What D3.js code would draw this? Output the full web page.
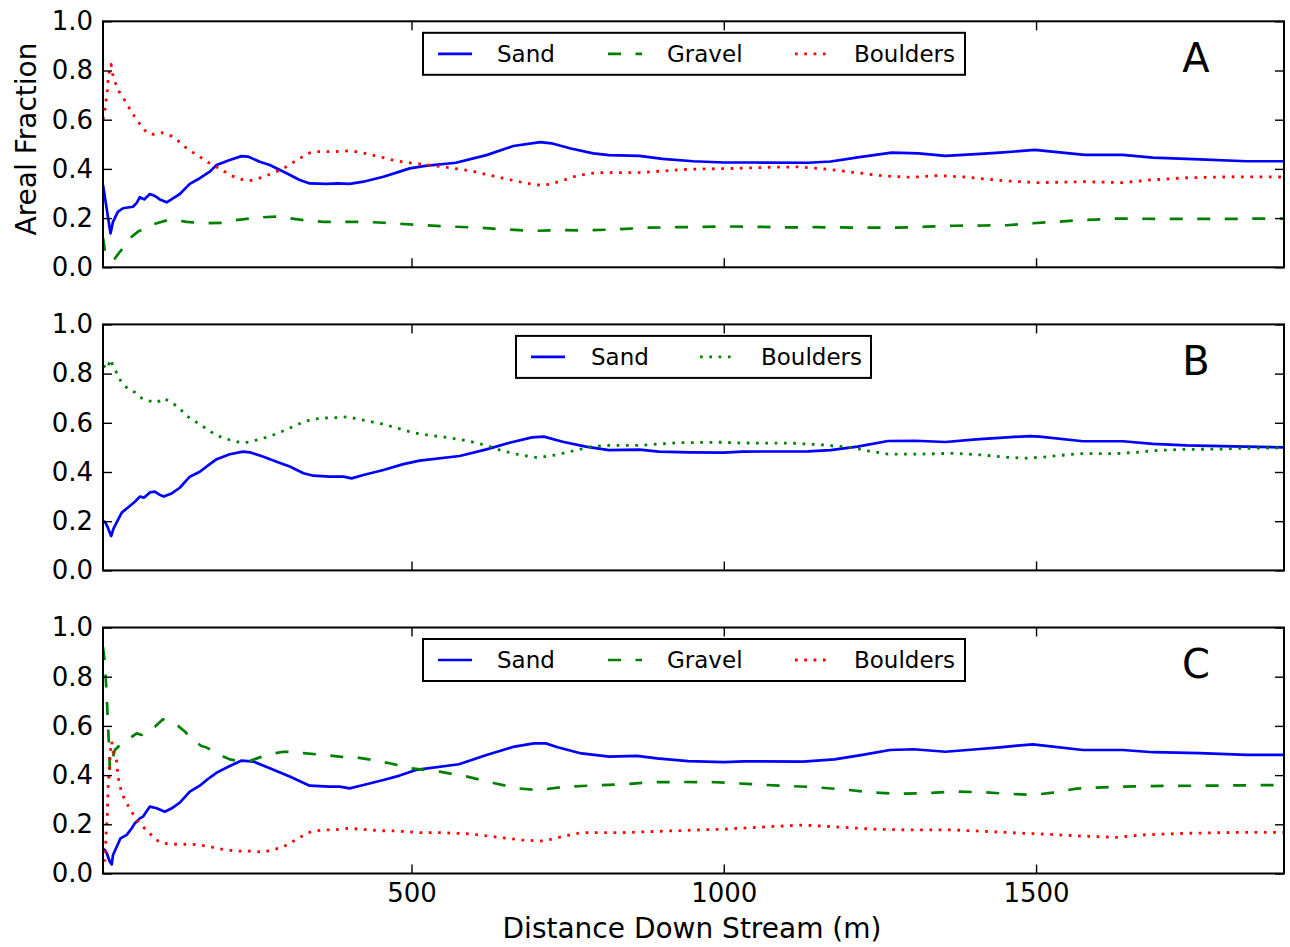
<!DOCTYPE html>
<html>
<head>
<meta charset="utf-8">
<script src="https://cdn.jsdelivr.net/npm/d3@7"></script>
<style>
html,body{margin:0;padding:0;background:#fff;}
svg{display:block;font-family:"DejaVu Sans",sans-serif;}
</style>
</head>
<body>
<svg id="chart" width="1290" height="947"></svg>
<script>
// ---------- data (distance m, areal fraction) ----------
const panelLabels = ["A", "B", "C"];
const yTicks = [0, 0.2, 0.4, 0.6, 0.8, 1.0];
const xTicks = [500, 1000, 1500];
const xDomain = [6, 1897];

const sandA = [[6,0.335],[18,0.138],[22,0.185],[30,0.226],[38,0.24],[46,0.243],[54,0.246],[60,0.262],[65,0.285],[72,0.276],[81,0.298],[89,0.29],[97,0.276],[108,0.264],[118,0.28],[129,0.298],[145,0.339],[161,0.362],[177,0.389],[188,0.416],[209,0.436],[228,0.452],[238,0.45],[257,0.429],[273,0.416],[300,0.382],[321,0.355],[337,0.341],[364,0.339],[382,0.341],[401,0.339],[423,0.348],[455,0.368],[481,0.389],[497,0.402],[522,0.412],[571,0.425],[620,0.456],[663,0.493],[706,0.509],[724,0.504],[755,0.483],[791,0.463],[816,0.456],[865,0.453],[902,0.441],[951,0.431],[1000,0.426],[1049,0.426],[1135,0.425],[1171,0.43],[1220,0.449],[1269,0.466],[1312,0.463],[1355,0.453],[1404,0.46],[1442,0.466],[1498,0.477],[1578,0.457],[1639,0.457],[1687,0.446],[1762,0.439],[1837,0.431],[1897,0.431]];
const gravelA = [[6,0.12],[9,0.07],[17,0.03],[25,0.036],[33,0.063],[44,0.097],[52,0.124],[62,0.145],[73,0.158],[81,0.172],[92,0.179],[110,0.192],[121,0.192],[140,0.185],[156,0.181],[169,0.179],[196,0.181],[214,0.19],[241,0.198],[257,0.203],[287,0.206],[305,0.199],[332,0.19],[359,0.185],[391,0.185],[423,0.185],[455,0.181],[487,0.176],[513,0.172],[559,0.166],[608,0.161],[650,0.154],[693,0.148],[742,0.151],[779,0.15],[828,0.154],[877,0.161],[926,0.163],[1000,0.166],[1049,0.165],[1098,0.162],[1147,0.163],[1233,0.161],[1275,0.161],[1324,0.165],[1367,0.169],[1416,0.17],[1453,0.171],[1495,0.179],[1575,0.192],[1628,0.198],[1700,0.197],[1800,0.197],[1897,0.198]];
const bouldersA = [[6,0.6],[9,0.64],[11,0.68],[13,0.72],[14,0.755],[16,0.79],[19,0.825],[21,0.788],[26,0.748],[31,0.717],[39,0.687],[53,0.626],[61,0.596],[69,0.569],[77,0.545],[88,0.54],[101,0.547],[115,0.534],[126,0.515],[138,0.488],[150,0.467],[163,0.446],[174,0.427],[187,0.409],[198,0.393],[212,0.372],[225,0.359],[240,0.352],[253,0.359],[267,0.372],[280,0.385],[293,0.398],[306,0.42],[319,0.439],[332,0.461],[345,0.47],[377,0.47],[404,0.474],[420,0.466],[448,0.45],[476,0.432],[506,0.422],[552,0.408],[595,0.392],[638,0.367],[681,0.343],[711,0.332],[739,0.35],[767,0.374],[798,0.385],[865,0.385],[945,0.399],[1018,0.402],[1079,0.407],[1122,0.408],[1165,0.399],[1208,0.386],[1257,0.371],[1300,0.366],[1343,0.373],[1386,0.367],[1447,0.352],[1505,0.344],[1575,0.348],[1639,0.344],[1682,0.355],[1741,0.364],[1816,0.368],[1897,0.367]];

const sandB = [[6,0.2],[9,0.198],[13,0.178],[19,0.14],[23,0.171],[30,0.205],[36,0.235],[46,0.256],[57,0.279],[65,0.3],[72,0.296],[81,0.317],[89,0.32],[97,0.307],[103,0.3],[116,0.313],[129,0.336],[145,0.381],[161,0.401],[177,0.432],[188,0.452],[209,0.472],[230,0.483],[241,0.48],[263,0.462],[284,0.442],[305,0.422],[327,0.395],[343,0.385],[369,0.381],[391,0.381],[404,0.374],[423,0.388],[455,0.408],[487,0.432],[513,0.446],[577,0.465],[620,0.492],[657,0.519],[693,0.541],[712,0.544],[742,0.523],[779,0.503],[816,0.489],[865,0.491],[896,0.483],[945,0.48],[1000,0.479],[1030,0.483],[1135,0.484],[1171,0.489],[1214,0.503],[1263,0.526],[1306,0.527],[1355,0.522],[1404,0.533],[1453,0.541],[1490,0.546],[1506,0.544],[1575,0.525],[1639,0.525],[1687,0.514],[1741,0.508],[1816,0.504],[1897,0.5]];
const bouldersB = [[6,0.83],[9,0.828],[13,0.819],[18,0.858],[22,0.831],[29,0.798],[35,0.767],[45,0.74],[57,0.724],[68,0.7],[80,0.689],[92,0.682],[103,0.7],[116,0.682],[128,0.661],[138,0.632],[150,0.611],[163,0.591],[174,0.571],[187,0.55],[200,0.537],[214,0.527],[229,0.519],[243,0.523],[257,0.534],[272,0.544],[285,0.557],[299,0.571],[312,0.587],[326,0.602],[340,0.614],[354,0.618],[369,0.621],[384,0.621],[399,0.625],[414,0.614],[428,0.609],[442,0.6],[457,0.594],[471,0.582],[485,0.573],[500,0.561],[528,0.549],[559,0.54],[589,0.527],[617,0.51],[644,0.487],[674,0.469],[703,0.458],[730,0.469],[761,0.487],[788,0.503],[816,0.508],[865,0.508],[926,0.519],[997,0.521],[1024,0.518],[1110,0.517],[1159,0.51],[1202,0.5],[1233,0.485],[1263,0.473],[1318,0.473],[1367,0.476],[1410,0.47],[1453,0.46],[1482,0.456],[1511,0.46],[1541,0.468],[1570,0.475],[1629,0.475],[1661,0.48],[1690,0.487],[1735,0.492],[1794,0.493],[1823,0.496],[1897,0.498]];

const sandC = [[6,0.1],[9,0.096],[12,0.082],[17,0.048],[20,0.037],[22,0.075],[28,0.109],[34,0.143],[44,0.157],[52,0.184],[57,0.204],[65,0.224],[70,0.231],[81,0.272],[92,0.265],[105,0.251],[116,0.265],[129,0.288],[145,0.333],[161,0.357],[172,0.38],[188,0.41],[209,0.437],[228,0.459],[247,0.455],[273,0.428],[305,0.394],[337,0.357],[369,0.353],[385,0.353],[401,0.346],[423,0.36],[455,0.38],[481,0.398],[507,0.421],[576,0.444],[620,0.482],[665,0.516],[696,0.529],[715,0.529],[734,0.513],[772,0.488],[817,0.475],[861,0.478],[893,0.468],[943,0.457],[1000,0.453],[1032,0.456],[1127,0.455],[1177,0.464],[1222,0.482],[1266,0.502],[1304,0.505],[1355,0.495],[1405,0.505],[1442,0.513],[1470,0.52],[1495,0.525],[1575,0.502],[1639,0.502],[1687,0.493],[1762,0.489],[1837,0.482],[1897,0.482]];
const gravelC = [[6,0.92],[9,0.86],[12,0.72],[14,0.6],[16,0.5],[17,0.42],[19,0.434],[22,0.475],[25,0.502],[33,0.522],[38,0.532],[49,0.55],[60,0.57],[68,0.563],[76,0.583],[89,0.597],[102,0.627],[113,0.61],[126,0.6],[137,0.577],[150,0.543],[164,0.518],[172,0.512],[188,0.488],[209,0.464],[228,0.455],[241,0.457],[257,0.472],[279,0.488],[295,0.495],[316,0.493],[332,0.488],[359,0.482],[385,0.475],[412,0.472],[439,0.461],[465,0.448],[492,0.432],[500,0.427],[545,0.414],[589,0.394],[633,0.367],[671,0.346],[703,0.339],[747,0.353],[785,0.357],[836,0.362],[886,0.371],[937,0.372],[988,0.371],[1038,0.364],[1089,0.357],[1139,0.352],[1190,0.342],[1241,0.329],[1279,0.324],[1317,0.326],[1367,0.333],[1418,0.33],[1442,0.326],[1495,0.319],[1527,0.329],[1565,0.345],[1629,0.353],[1709,0.356],[1816,0.358],[1897,0.36]];
const bouldersC = [[6,0.05],[9,0.055],[11,0.163],[13,0.245],[14,0.34],[16,0.414],[18,0.502],[20,0.536],[22,0.495],[28,0.455],[30,0.394],[36,0.326],[44,0.285],[52,0.251],[60,0.217],[70,0.19],[81,0.163],[89,0.14],[102,0.123],[118,0.119],[145,0.119],[161,0.116],[177,0.109],[190,0.102],[204,0.096],[220,0.091],[247,0.091],[263,0.086],[276,0.096],[292,0.105],[305,0.123],[319,0.143],[332,0.163],[343,0.173],[359,0.177],[375,0.177],[401,0.184],[417,0.18],[433,0.177],[449,0.174],[476,0.173],[513,0.166],[545,0.166],[595,0.161],[640,0.147],[677,0.136],[712,0.132],[741,0.15],[772,0.166],[836,0.166],[924,0.174],[1007,0.181],[1070,0.19],[1127,0.197],[1177,0.19],[1241,0.18],[1304,0.177],[1367,0.177],[1430,0.17],[1468,0.165],[1522,0.159],[1575,0.152],[1629,0.147],[1671,0.157],[1735,0.163],[1816,0.167],[1897,0.167]];

// ---------- styles ----------
const STY = {
  sand:     {color:"#0000ff", dash:null,        width:2.7},
  gravel:   {color:"#008000", dash:"13,14.5",   width:2.7},
  boulderR: {color:"#ff0000", dash:"2.7,6.6",   width:2.8},
  boulderG: {color:"#008000", dash:"2.7,6.6",   width:2.8}
};

const panels = [
  {label:"A", top:21.3, series:[
      {name:"Sand", data:sandA, s:STY.sand},
      {name:"Gravel", data:gravelA, s:STY.gravel},
      {name:"Boulders", data:bouldersA, s:STY.boulderR}],
   legend:{x0:423, x1:965, items:[[438,497],[608,667],[795,854]]}},
  {label:"B", top:324.4, series:[
      {name:"Sand", data:sandB, s:STY.sand},
      {name:"Boulders", data:bouldersB, s:STY.boulderG}],
   legend:{x0:516, x1:871, items:[[531,591],[700,761]]}},
  {label:"C", top:627.5, series:[
      {name:"Sand", data:sandC, s:STY.sand},
      {name:"Gravel", data:gravelC, s:STY.gravel},
      {name:"Boulders", data:bouldersC, s:STY.boulderR}],
   legend:{x0:423, x1:965, items:[[438,497],[608,667],[795,854]]}}
];

const L = 103, R = 1284, PH = 246;
const svg = d3.select("#chart");
const x = d3.scaleLinear().domain(xDomain).range([L, R]);

panels.forEach((p, i) => {
  const y = d3.scaleLinear().domain([0, 1]).range([p.top + PH, p.top]);
  const g = svg.append("g");
  const clipId = "clip" + i;
  svg.append("clipPath").attr("id", clipId).append("rect")
    .attr("x", L).attr("y", p.top).attr("width", R - L).attr("height", PH);

  const line = d3.line().x(d => x(d[0])).y(d => y(d[1]));
  const lines = g.append("g").attr("clip-path", `url(#${clipId})`);
  p.series.forEach(se => {
    lines.append("path").datum(se.data)
      .attr("d", line).attr("fill", "none")
      .attr("stroke", se.s.color).attr("stroke-width", se.s.width)
      .attr("stroke-linejoin", "round")
      .attr("stroke-dasharray", se.s.dash);
  });

  // axes
  const fmt = d3.format(".1f");
  const ax = [
    g.append("g").attr("transform", `translate(${L},0)`)
      .call(d3.axisLeft(y).tickValues(yTicks).tickFormat(fmt).tickSize(-9).tickPadding(10)),
    g.append("g").attr("transform", `translate(${R},0)`)
      .call(d3.axisRight(y).tickValues(yTicks).tickFormat("").tickSize(-9)),
    g.append("g").attr("transform", `translate(0,${p.top})`)
      .call(d3.axisTop(x).tickValues(xTicks).tickFormat("").tickSize(-9)),
    g.append("g").attr("transform", `translate(0,${p.top + PH})`)
      .call(d3.axisBottom(x).tickValues(xTicks).tickFormat(i === 2 ? d3.format("d") : "").tickSize(-9).tickPadding(10))
  ];
  ax.forEach(a => {
    a.select(".domain").remove();
    a.selectAll(".tick line").attr("stroke", "#000").attr("stroke-width", 1.4);
    a.selectAll(".tick text").attr("font-size", 26).attr("font-family", "DejaVu Sans").attr("fill", "#000");
  });

  g.append("rect").attr("x", L).attr("y", p.top).attr("width", R - L).attr("height", PH)
    .attr("fill", "none").attr("stroke", "#000").attr("stroke-width", 2);

  // legend
  const lg = p.legend, ly0 = p.top + 11.5, lh = 42, ym = ly0 + lh / 2;
  g.append("rect").attr("x", lg.x0).attr("y", ly0).attr("width", lg.x1 - lg.x0).attr("height", lh)
    .attr("fill", "#fff").attr("stroke", "#000").attr("stroke-width", 2);
  p.series.forEach((se, k) => {
    const [lx, tx] = lg.items[k];
    g.append("line").attr("x1", lx).attr("x2", lx + 34).attr("y1", ym).attr("y2", ym)
      .attr("stroke", se.s.color).attr("stroke-width", se.s.width)
      .attr("stroke-dasharray", se.s.dash);
    g.append("text").attr("x", tx).attr("y", ym + 8.3).attr("font-size", 23).text(se.name);
  });

  // panel letter
  g.append("text").attr("x", 1196).attr("y", p.top + 50.4).attr("text-anchor", "middle")
    .attr("font-size", 40).text(p.label);
});

svg.append("text").attr("transform", "translate(36,139) rotate(-90)")
  .attr("text-anchor", "middle").attr("font-size", 28).text("Areal Fraction");
svg.append("text").attr("x", 692).attr("y", 938)
  .attr("text-anchor", "middle").attr("font-size", 28).text("Distance Down Stream (m)");
</script>
</body>
</html>
